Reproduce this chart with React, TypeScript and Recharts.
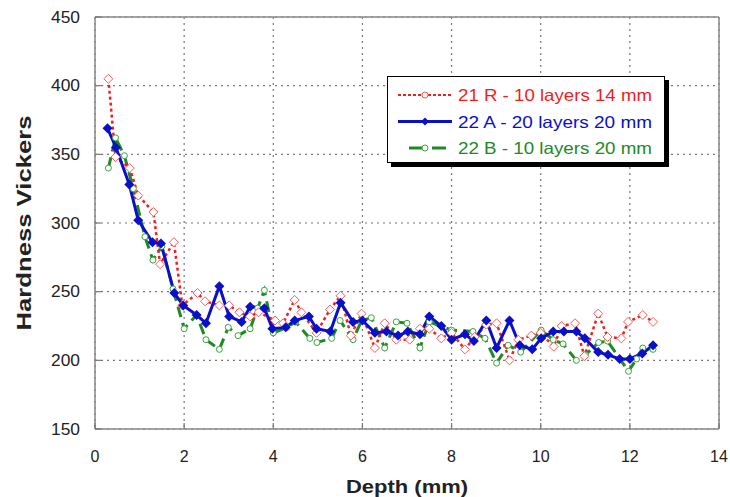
import React from 'react';
import { LineChart, Line, XAxis, YAxis, CartesianGrid, ReferenceLine } from 'recharts';

// 21 R - 10 layers 14 mm
const depthR = [0.3, 0.46, 0.78, 0.97, 1.31, 1.46, 1.77, 1.96, 2.3, 2.47, 2.79, 3.01, 3.24, 3.48, 3.67, 4.04, 4.22, 4.48, 4.63, 4.97, 5.27, 5.51, 5.74, 5.98, 6.28, 6.5, 6.76, 7.06, 7.29, 7.5, 7.77, 8.0, 8.3, 8.52, 8.78, 9.01, 9.3, 9.5, 9.79, 10.0, 10.29, 10.47, 10.77, 10.98, 11.29, 11.5, 11.81, 11.96, 12.29, 12.52];
const hardnessR = [405, 348, 340, 320, 308, 270, 286, 240, 249, 243, 240, 240, 235, 232, 235, 229, 227, 244, 235, 220, 237, 247, 218, 234, 209, 227, 215, 215, 223, 223, 216, 220, 208, 217, 226, 227, 200, 215, 218, 220, 210, 225, 227, 203, 234, 217, 216, 228, 233, 228];

// 22 A - 20 layers 20 mm
const depthA = [0.28, 0.47, 0.77, 0.97, 1.29, 1.48, 1.78, 1.98, 2.28, 2.49, 2.79, 3.01, 3.29, 3.48, 3.8, 3.98, 4.28, 4.48, 4.8, 4.97, 5.28, 5.51, 5.79, 6.0, 6.28, 6.54, 6.8, 7.02, 7.29, 7.5, 7.77, 8.0, 8.3, 8.5, 8.78, 9.01, 9.3, 9.53, 9.81, 10.01, 10.28, 10.52, 10.8, 10.99, 11.29, 11.51, 11.77, 12.0, 12.28, 12.52];
const hardnessA = [369, 355, 328, 302, 286, 285, 249, 240, 233, 227, 254, 232, 228, 239, 238, 223, 224, 229, 232, 223, 221, 242, 228, 229, 220, 221, 218, 221, 219, 232, 225, 215, 219, 214, 229, 209, 229, 211, 208, 216, 221, 221, 221, 216, 206, 204, 201, 201, 205, 211];

// 22 B - 10 layers 20 mm
const depthB = [0.3, 0.46, 0.66, 0.86, 1.12, 1.3, 1.5, 1.75, 2.0, 2.28, 2.49, 2.79, 2.99, 3.21, 3.48, 3.65, 3.8, 4.0, 4.3, 4.5, 4.82, 4.98, 5.31, 5.5, 5.79, 5.98, 6.2, 6.5, 6.76, 7.0, 7.29, 7.5, 8.0, 8.48, 8.75, 9.01, 9.27, 9.55, 10.01, 10.28, 10.5, 10.8, 11.0, 11.3, 11.5, 11.97, 12.15, 12.29, 12.52];
const hardnessB = [340, 362, 349, 325, 290, 273, 283, 252, 223, 233, 215, 208, 224, 218, 223, 238, 251, 220, 224, 228, 216, 213, 216, 229, 215, 229, 231, 209, 228, 227, 209, 228, 222, 221, 216, 198, 211, 206, 222, 215, 212, 200, 204, 213, 214, 192, 201, 209, 208];

const xTicks = [0, 2, 4, 6, 8, 10, 12, 14];
const yTicks = [150, 200, 250, 300, 350, 400, 450];

const toPoints = (xs: number[], ys: number[]) => xs.map((x, i) => ({ x, v: ys[i] }));
const dataR = toPoints(depthR, hardnessR);
const dataA = toPoints(depthA, hardnessA);
const dataB = toPoints(depthB, hardnessB);

const RED = '#f21d1d';
const BLUE = '#0a10c8';
const GREEN = '#1e8a24';
const FONT = '"Liberation Sans", Arial, sans-serif';

const XTick = (props: any) => {
  const { x, y, payload } = props;
  return (
    <g>
      <line x1={x} x2={x} y1={y} y2={y - 6} stroke="#777" strokeWidth={1.2} />
      <text x={x} y={y + 27} textAnchor="middle" dominantBaseline="central" fontSize={16} fill="#222" fontFamily={FONT}>
        {payload.value}
      </text>
    </g>
  );
};

const YTick = (props: any) => {
  const { x, y, payload } = props;
  return (
    <g>
      <line x1={x} x2={x + 6} y1={y} y2={y} stroke="#777" strokeWidth={1.2} />
      <text
        x={x - 44}
        y={y}
        dominantBaseline="central"
        fontSize={16}
        fill="#222"
        fontFamily={FONT}
        textLength={29}
        lengthAdjust="spacingAndGlyphs"
      >
        {payload.value}
      </text>
    </g>
  );
};

const RedDiamond = (props: any) => {
  const { cx, cy, index } = props;
  const s = 4.5;
  return (
    <path key={`r${index}`} d={`M${cx},${cy - s}L${cx + s},${cy}L${cx},${cy + s}L${cx - s},${cy}Z`} fill="#fff" stroke="#ff5a5a" strokeWidth={1} />
  );
};

const BlueDiamond = (props: any) => {
  const { cx, cy, index } = props;
  const s = 5;
  return <path key={`a${index}`} d={`M${cx},${cy - s}L${cx + s},${cy}L${cx},${cy + s}L${cx - s},${cy}Z`} fill={BLUE} />;
};

const GreenCircle = (props: any) => {
  const { cx, cy, index } = props;
  return <circle key={`b${index}`} cx={cx} cy={cy} r={3} fill="#fff" stroke="#3aa43a" strokeWidth={1} />;
};

function LegendBox() {
  const rows = [
    { label: '21 R - 10 layers 14 mm', color: RED, kind: 'r' },
    { label: '22 A - 20 layers 20 mm', color: BLUE, kind: 'a' },
    { label: '22 B - 10 layers 20 mm', color: GREEN, kind: 'b' },
  ];
  return (
    <div
      style={{
        position: 'absolute',
        left: 387,
        top: 76,
        width: 276,
        height: 85,
        background: '#fff',
        border: '1.5px solid #000',
        boxShadow: '4px 4px 0 #000',
      }}
    >
      <svg width={276} height={85} style={{ display: 'block' }}>
        {rows.map((r, i) => {
          const cy = 18 + i * 26.5;
          return (
            <g key={r.kind}>
              {r.kind === 'r' && (
                <>
                  <line x1={10} x2={64} y1={cy} y2={cy} stroke={RED} strokeWidth={2} strokeDasharray="3 2" />
                  <circle cx={37} cy={cy} r={3} fill="#fff" stroke="#ff5a5a" />
                </>
              )}
              {r.kind === 'a' && (
                <>
                  <line x1={10} x2={64} y1={cy} y2={cy} stroke={BLUE} strokeWidth={3} />
                  <path d={`M37,${cy - 4}L41,${cy}L37,${cy + 4}L33,${cy}Z`} fill={BLUE} />
                </>
              )}
              {r.kind === 'b' && (
                <>
                  <line x1={21} x2={34} y1={cy} y2={cy} stroke={GREEN} strokeWidth={3} />
                  <circle cx={37} cy={cy} r={3} fill="#fff" stroke="#3aa43a" />
                  <line x1={44} x2={58} y1={cy} y2={cy} stroke={GREEN} strokeWidth={3} />
                </>
              )}
              <text
                x={70}
                y={cy}
                dominantBaseline="central"
                fontSize={16.5}
                fill={r.color}
                fontFamily={FONT}
                textLength={194}
                lengthAdjust="spacingAndGlyphs"
              >
                {r.label}
              </text>
            </g>
          );
        })}
      </svg>
    </div>
  );
}

export default function App() {
  return (
    <div style={{ position: 'absolute', left: 0, top: 0, width: 730, height: 497, background: '#fff' }}>
      <LineChart width={730} height={497} margin={{ top: 17, right: 11, left: 0, bottom: 0 }}>
        <CartesianGrid stroke="#777" strokeDasharray="2 4" strokeWidth={1.2} />
        <XAxis
          type="number"
          dataKey="x"
          domain={[0, 14]}
          ticks={xTicks}
          height={68}
          tickSize={0}
          tickMargin={0}
          tickLine={false}
          tick={<XTick />}
          axisLine={{ stroke: '#888', strokeWidth: 1.5 }}
          interval={0}
        />
        <YAxis
          type="number"
          domain={[150, 450]}
          ticks={yTicks}
          width={95}
          tickSize={0}
          tickMargin={0}
          tickLine={false}
          tick={<YTick />}
          axisLine={{ stroke: '#888', strokeWidth: 1.5 }}
          interval={0}
        />
        <ReferenceLine y={450} stroke="#888" strokeWidth={1.5} />
        <ReferenceLine x={14} stroke="#888" strokeWidth={1.5} />
        <Line
          data={dataB}
          dataKey="v"
          type="linear"
          stroke={GREEN}
          strokeWidth={3}
          strokeDasharray="11 6"
          dot={<GreenCircle />}
          isAnimationActive={false}
        />
        <Line
          data={dataR}
          dataKey="v"
          type="linear"
          stroke={RED}
          strokeWidth={2.5}
          strokeDasharray="3 3"
          dot={<RedDiamond />}
          isAnimationActive={false}
        />
        <Line
          data={dataA}
          dataKey="v"
          type="linear"
          stroke={BLUE}
          strokeWidth={3}
          dot={<BlueDiamond />}
          isAnimationActive={false}
        />
        <text
          x={24}
          y={223}
          transform="rotate(-90 24 223)"
          textAnchor="middle"
          dominantBaseline="central"
          fontSize={20}
          fontWeight="bold"
          fill="#222"
          fontFamily={FONT}
          textLength={215}
          lengthAdjust="spacingAndGlyphs"
        >
          Hardness Vickers
        </text>
        <text
          x={407}
          y={487}
          textAnchor="middle"
          dominantBaseline="central"
          fontSize={18}
          fontWeight="bold"
          fill="#222"
          fontFamily={FONT}
          textLength={122}
          lengthAdjust="spacingAndGlyphs"
        >
          Depth (mm)
        </text>
      </LineChart>
      <LegendBox />
    </div>
  );
}
